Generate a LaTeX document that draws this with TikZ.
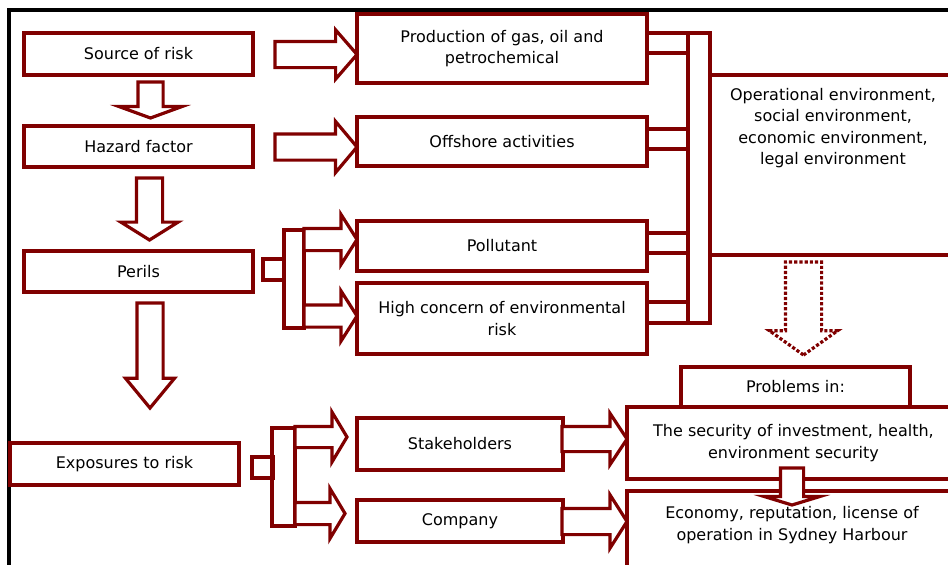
\documentclass[tikz,border=0pt]{standalone}
\usepackage{fontspec}
\setmainfont{DejaVu Sans}
\usetikzlibrary{shapes.arrows,positioning}
\definecolor{riskred}{RGB}{128,0,0}
\begin{document}
\begin{tikzpicture}
[x=1pt,y=-1pt,
 box/.style={draw=riskred,line width=3.2pt,inner sep=0pt,outer sep=0pt,align=center,font=\fontsize{16}{21.5}\selectfont},
 txt/.style={align=center,font=\fontsize{16}{21.5}\selectfont},
 redline/.style={draw=riskred,line width=3.2pt},
 barr/.style={single arrow,draw=riskred,fill=white,line width=3.2pt,inner xsep=0pt,outer sep=0pt,anchor=tip}]
\clip (0,0) rectangle (948,565);
\draw [line width=3.4pt] (9,10) rectangle (990,600);
\node [box,minimum width=229,minimum height=42] (src) at (138.5,54) {Source of risk};
\node [box,minimum width=229,minimum height=41] (haz) at (138.5,146.5) {Hazard factor};
\node [box,minimum width=229,minimum height=41] (per) at (138.5,271.5) {Perils};
\node [box,minimum width=229,minimum height=42] (exp) at (124.5,464) {Exposures to risk};
\node [box,minimum width=290,minimum height=69] (prod) at (502,48.5) {Production of gas, oil and\\petrochemical};
\node [box,minimum width=290,minimum height=49] (off) at (502,141.5) {Offshore activities};
\node [box,minimum width=290,minimum height=50] (poll) at (502,246) {Pollutant};
\node [box,minimum width=290,minimum height=71] (high) at (502,318.5) {High concern of environmental\\risk};
\node [box,minimum width=206,minimum height=52] (stake) at (460,444) {Stakeholders};
\node [box,minimum width=206,minimum height=42] (comp) at (460,521) {Company};
\node [box,minimum width=22,minimum height=290] (bar) at (699,178) {};
\node [box,minimum width=250,minimum height=180] (oper) at (835,165) {};
\node [txt] (opertxt) at (833,128) {Operational environment,\\social environment,\\economic environment,\\legal environment};
\node [box,minimum width=229,minimum height=40] (prl) at (795.5,387) {Problems in:};
\node [box,minimum width=333,minimum height=72] (sec) at (793.5,443) {The security of investment, health,\\environment security};
\node [box,minimum width=333,minimum height=129] (econ) at (793.5,555.5) {};
\node [txt] (econtxt) at (792,525) {Economy, reputation, license of\\operation in Sydney Harbour};
\draw [redline] (prod.east |- 0,33) rectangle (bar.west |- 0,53);
\draw [redline] (off.east |- 0,129) rectangle (bar.west |- 0,149);
\draw [redline] (poll.east |- 0,233) rectangle (bar.west |- 0,253);
\draw [redline] (high.east |- 0,302) rectangle (bar.west |- 0,323);
\node [box,minimum size=21] (psq) at (273.5,269.5) {};
\node [box,minimum width=20,minimum height=98] (pbar) at (294,279) {};
\node [box,minimum size=21] (esq) at (262.5,467.5) {};
\node [box,minimum width=23,minimum height=98] (ebar) at (283.5,477) {};
\node [barr,minimum height=82,inner ysep=11.5,single arrow head extend=11.5,single arrow tip angle=98] (a1) at (prod.west |- 0,54.5) {};
\node [barr,minimum height=82,inner ysep=11.5,single arrow head extend=12.5,single arrow tip angle=100] (a2) at (off.west |- 0,147) {};
\node [barr,rotate=-90,minimum height=36,inner ysep=11,single arrow head extend=19,single arrow tip angle=140] (a3) at ([xshift=12pt,yshift=8pt]haz.north) {};
\node [barr,rotate=-90,minimum height=62,inner ysep=11.5,single arrow head extend=15.5,single arrow tip angle=116] (a4) at ([xshift=11pt,yshift=11pt]per.north) {};
\node [barr,rotate=-90,minimum height=105,inner ysep=11.5,single arrow head extend=11.5,single arrow tip angle=79] (a5) at ([xshift=25.5pt,yshift=35pt]exp.north) {};
\node [barr,minimum height=53,inner ysep=9.5,single arrow head extend=14,single arrow tip angle=115] (a6) at (poll.west |- 0,239.5) {};
\node [barr,minimum height=53,inner ysep=9.5,single arrow head extend=14,single arrow tip angle=115] (a7) at (high.west |- 0,316) {};
\node [barr,minimum height=52,inner ysep=9,single arrow head extend=14.5,single arrow tip angle=118] (a8) at ([xshift=-10pt]stake.west |- 0,437) {};
\node [barr,minimum height=50,inner ysep=9.5,single arrow head extend=14,single arrow tip angle=118] (a9) at ([xshift=-12pt]comp.west |- 0,513.5) {};
\node [barr,minimum height=65,inner ysep=11,single arrow head extend=13,single arrow tip angle=113] (a10) at (sec.west |- 0,439) {};
\node [barr,minimum height=65,inner ysep=11.5,single arrow head extend=13.5,single arrow tip angle=115] (a11) at (econ.west |- 0,521.5) {};
\node [barr,rotate=-90,minimum height=37,inner ysep=10,single arrow head extend=16,single arrow tip angle=146] (a12) at ([xshift=-1.5pt,yshift=-14pt]econ.north) {};
\node [barr,fill=none,dotted,line width=3.2pt,rotate=-90,minimum height=93,inner ysep=16.5,single arrow head extend=16,single arrow tip angle=109] (a13) at ([xshift=8pt,yshift=12pt]prl.north) {};
\end{tikzpicture}
\end{document}
